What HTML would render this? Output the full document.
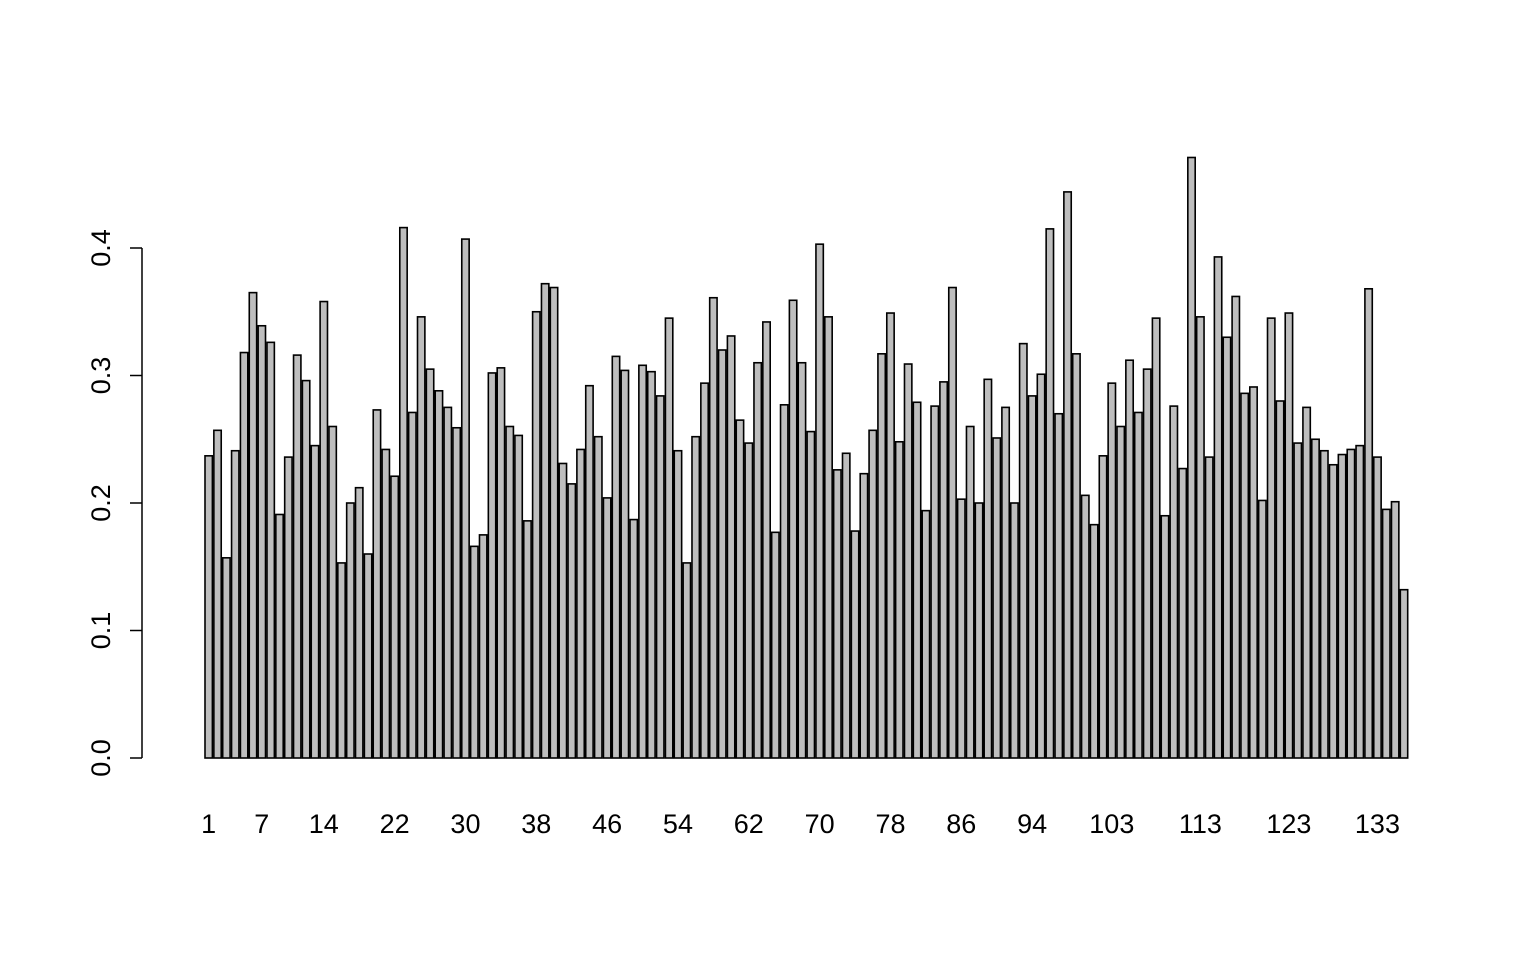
<!DOCTYPE html>
<html><head><meta charset="utf-8"><style>
html,body{margin:0;padding:0;background:#fff}
svg{display:block}
text{font-family:"Liberation Sans",sans-serif;font-size:27px;fill:#000}
</style></head><body>
<svg id="chart" width="1536" height="960" viewBox="0 0 1536 960" xmlns="http://www.w3.org/2000/svg">
<g id="bars"></g>
<g id="yaxis"></g>
<g id="xlabels"></g>
</svg>
<script>
const values = [0.237,0.257,0.157,0.241,0.318,0.365,0.339,0.326,0.191,0.236,
0.316,0.296,0.245,0.358,0.260,0.153,0.200,0.212,0.160,0.273,
0.242,0.221,0.416,0.271,0.346,0.305,0.288,0.275,0.259,0.407,
0.166,0.175,0.302,0.306,0.260,0.253,0.186,0.350,0.372,0.369,
0.231,0.215,0.242,0.292,0.252,0.204,0.315,0.304,0.187,0.308,
0.303,0.284,0.345,0.241,0.153,0.252,0.294,0.361,0.320,0.331,
0.265,0.247,0.310,0.342,0.177,0.277,0.359,0.310,0.256,0.403,
0.346,0.226,0.239,0.178,0.223,0.257,0.317,0.349,0.248,0.309,
0.279,0.194,0.276,0.295,0.369,0.203,0.260,0.200,0.297,0.251,
0.275,0.200,0.325,0.284,0.301,0.415,0.270,0.444,0.317,0.206,
0.183,0.237,0.294,0.260,0.312,0.271,0.305,0.345,0.190,0.276,
0.227,0.471,0.346,0.236,0.393,0.330,0.362,0.286,0.291,0.202,
0.345,0.280,0.349,0.247,0.275,0.250,0.241,0.230,0.238,0.242,
0.245,0.368,0.236,0.195,0.201,0.132];
const xTickLabels = [1,7,14,22,30,38,46,54,62,70,78,86,94,103,113,123,133];
const yTicks = [0.0,0.1,0.2,0.3,0.4];
const yTickText = ["0.0","0.1","0.2","0.3","0.4"];

const NS="http://www.w3.org/2000/svg";
const left=205, right=1407.7, y0=758, pxPerUnit=1275;
const pitch=(right-left)/(values.length-1/6);
const bw=pitch/1.2;
function xc(i){return left+i*pitch+bw/2;}
function yv(v){return y0-v*pxPerUnit;}

const gb=document.getElementById('bars');
values.forEach((v,i)=>{
  const r=document.createElementNS(NS,'rect');
  r.setAttribute('x',(xc(i)-bw/2).toFixed(2));
  r.setAttribute('y',yv(v).toFixed(2));
  r.setAttribute('width',bw.toFixed(2));
  r.setAttribute('height',(v*pxPerUnit).toFixed(2));
  r.setAttribute('fill','#bebebe');
  r.setAttribute('stroke','#000');
  r.setAttribute('stroke-width','1.6');
  
  
  gb.appendChild(r);
});

const gy=document.getElementById('yaxis');
const ax=document.createElementNS(NS,'line');
ax.setAttribute('x1',142);ax.setAttribute('x2',142);
ax.setAttribute('y1',yv(yTicks[0]));ax.setAttribute('y2',yv(yTicks[yTicks.length-1]));
ax.setAttribute('stroke','#000');ax.setAttribute('stroke-width','1.5');


gy.appendChild(ax);
yTicks.forEach((t,i)=>{
  const l=document.createElementNS(NS,'line');
  l.setAttribute('x1',130);l.setAttribute('x2',142);
  l.setAttribute('y1',yv(t));l.setAttribute('y2',yv(t));
  l.setAttribute('stroke','#000');l.setAttribute('stroke-width','1.5');
  
  
  gy.appendChild(l);
  const tx=document.createElementNS(NS,'text');
  tx.setAttribute('transform','translate(110,'+yv(t)+') rotate(-90)');
  tx.setAttribute('text-anchor','middle');
  tx.textContent=yTickText[i];
  
  
  gy.appendChild(tx);
});

const gx=document.getElementById('xlabels');
xTickLabels.forEach(n=>{
  const tx=document.createElementNS(NS,'text');
  tx.setAttribute('x',xc(n-1).toFixed(2));
  tx.setAttribute('y',833);
  tx.setAttribute('text-anchor','middle');
  tx.textContent=n;
  
  
  gx.appendChild(tx);
});
</script>
</body></html>
